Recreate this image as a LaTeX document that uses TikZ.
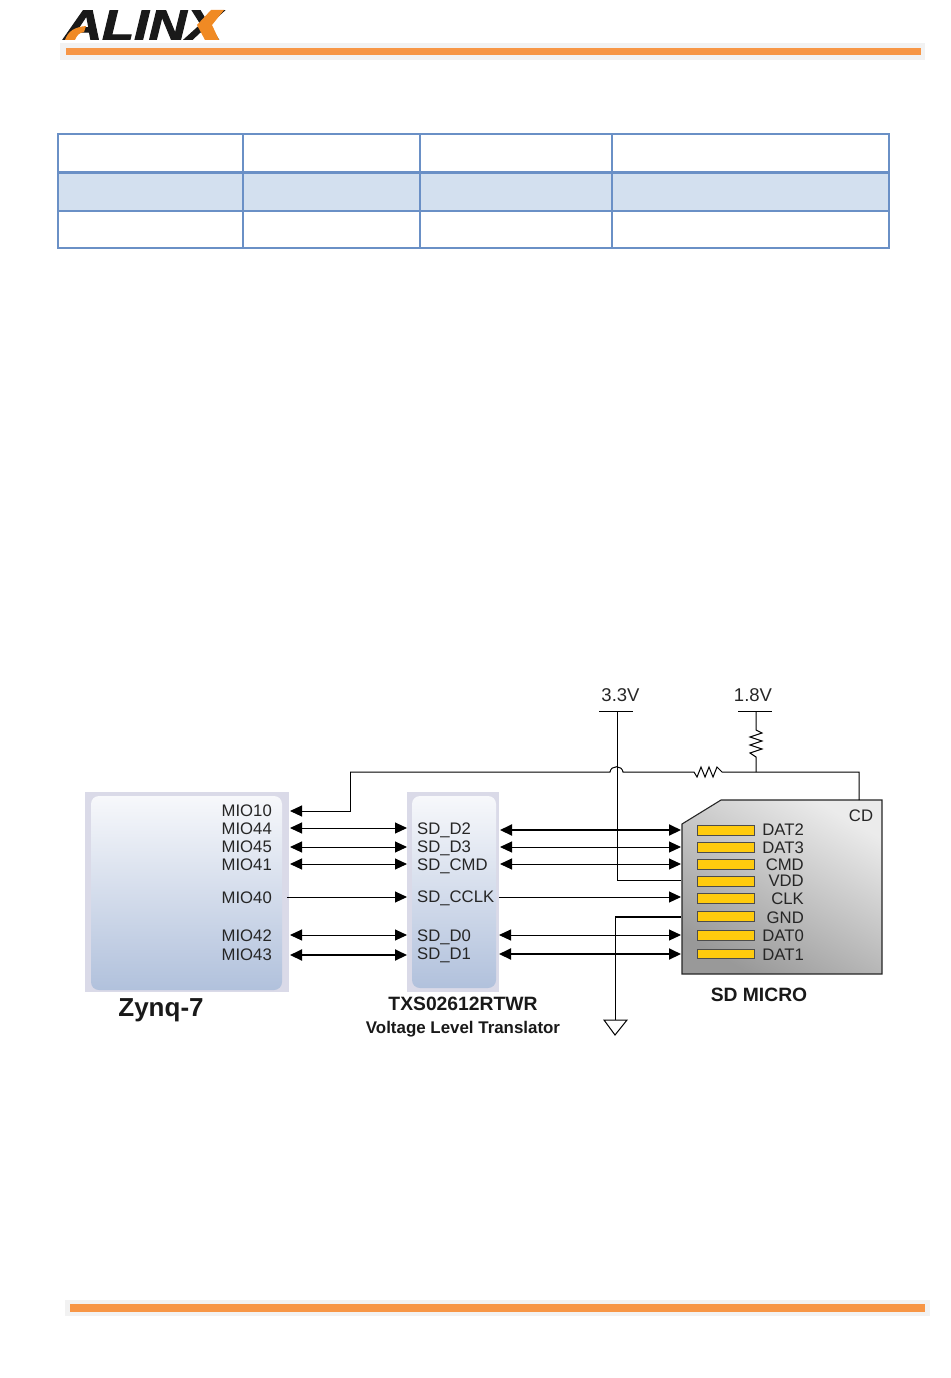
\documentclass[tikz,border=0pt]{standalone}
\usepackage{fontspec}
\setmainfont{Liberation Sans}
\newfontfamily\logofont[FakeBold=2.2, ItalicFont=*, BoldFont=*]{Liberation Sans Bold Italic}
\usetikzlibrary{arrows, arrows.meta}
\definecolor{barorange}{HTML}{F79646}
\definecolor{logoorange}{HTML}{F08A24}
\definecolor{bargrey}{HTML}{F2F2F2}
\definecolor{tableline}{HTML}{6A90C6}
\definecolor{tablerow}{HTML}{D3E0EF}
\definecolor{chipframe}{HTML}{DADAE8}
\definecolor{chiptop}{HTML}{F7F8FB}
\definecolor{chipbottom}{HTML}{B1C1DC}
\definecolor{pingold}{HTML}{FFCB0D}
\tikzset{
    chipouter/.style={fill=chipframe, draw=none},
    chipinner/.style={rounded corners=8pt, top color=chiptop, bottom color=chipbottom, draw=none},
    sigpin/.style={inner sep=0pt, font=\fontsize{16.7}{16.7}\selectfont, text=black!85},
    leftpin/.style={sigpin, anchor=east},
    rightpin/.style={sigpin, anchor=west},
    cardpin/.style={sigpin, anchor=east},
    railpin/.style={inner sep=0pt, font=\fontsize{18.5}{18.5}\selectfont, text=black!85},
    title/.style={inner sep=0pt, font=\bfseries\fontsize{#1}{#1}\selectfont, text=black!90},
    goldpad/.style={fill=pingold, draw=black!70, line width=0.8pt},
    sigboth/.style={{Triangle[length=12pt,width=11pt]}-{Triangle[length=12pt,width=11pt]}, line width=1pt},
    sigone/.style={-{Triangle[length=12pt,width=11pt]}, line width=1pt},
    sigthick/.style={line width=2pt},
    wire/.style={line width=1pt},
    tablerule/.style={tableline, line width=1.7pt}
}
\begin{document}
\begin{tikzpicture}[x=1pt, y=-1pt]
    \useasboundingbox (0,0) rectangle (950,1378);

    \fill[bargrey] (60,43) rectangle (925,60);
    \fill[barorange] (66,48) rectangle (921,55);
    \fill[bargrey] (65,1300) rectangle (930,1316);
    \fill[barorange] (70,1304) rectangle (925,1312);

    \node[anchor=west, inner sep=0pt, text=black!90, font=\logofont\fontsize{42}{42}\selectfont] (logo) at (64,25) {\scalebox{1.25}[1]{ALINX}};
    \fill[logoorange] (65,40) .. controls (68,31) and (75,27) .. (86,26) -- (84,32) .. controls (79,33) and (77,35) .. (75,40) -- cycle;
    \fill[logoorange] (224,10) -- (211,10) -- (197,25) -- (205,40) -- (219,40) -- (212,25) -- cycle;

    \fill[tablerow] (58,172) rectangle (889,210);
    \draw[tablerule] (58,134) rectangle (889,248);
    \draw[tablerule, line width=3pt] (58,172.5) -- (889,172.5);
    \draw[tablerule] (58,211) -- (889,211);
    \draw[tablerule] (243,134) -- (243,248);
    \draw[tablerule] (420,134) -- (420,248);
    \draw[tablerule] (612,134) -- (612,248);

    \fill[chipouter] (85,792) rectangle (289,992);
    \shade[chipinner] (91,796) rectangle (282,990);
    \fill[chipouter] (407,792) rectangle (499,992);
    \shade[chipinner] (412,796) rectangle (496,988);

    \shade[left color=black!40, middle color=black!36, right color=black!8, shading angle=150] (682,824) -- (721,800) -- (882,800) -- (882,974) -- (682,974) -- cycle;
    \draw[line width=1.1pt, black!85] (682,824) -- (721,800) -- (882,800) -- (882,974) -- (682,974) -- cycle;

    \node[leftpin] (mio10) at (272,811) {MIO10};
    \node[leftpin] (mio44) at (272,829) {MIO44};
    \node[leftpin] (mio45) at (272,847) {MIO45};
    \node[leftpin] (mio41) at (272,865) {MIO41};
    \node[leftpin] (mio40) at (272,898) {MIO40};
    \node[leftpin] (mio42) at (272,936) {MIO42};
    \node[leftpin] (mio43) at (272,955) {MIO43};

    \node[rightpin] (sdd2) at (417,830) {SD\_D2};
    \node[rightpin] (sdd3) at (417,848) {SD\_D3};
    \node[rightpin] (sdcmd) at (417,866) {SD\_CMD};
    \node[rightpin] (sdcclk) at (417,898) {SD\_CCLK};
    \node[rightpin] (sdd0) at (417,937) {SD\_D0};
    \node[rightpin] (sdd1) at (417,955) {SD\_D1};

    \draw[goldpad] (697.5,825.5) rectangle (754.5,835);
    \draw[goldpad] (697.5,842.5) rectangle (754.5,852);
    \draw[goldpad] (697.5,859.5) rectangle (754.5,869);
    \draw[goldpad] (697.5,876.5) rectangle (754.5,886);
    \draw[goldpad] (697.5,893.5) rectangle (754.5,903);
    \draw[goldpad] (697.5,911.5) rectangle (754.5,921);
    \draw[goldpad] (697.5,930) rectangle (754.5,940);
    \draw[goldpad] (697.5,949) rectangle (754.5,958.5);

    \node[cardpin] (dat2) at (804,830) {DAT2};
    \node[cardpin] (dat3) at (804,848) {DAT3};
    \node[cardpin] (cmd) at (804,865) {CMD};
    \node[cardpin] (vdd) at (804,881) {VDD};
    \node[cardpin] (clk) at (804,899) {CLK};
    \node[cardpin] (gnd) at (804,918) {GND};
    \node[cardpin] (dat0) at (804,936) {DAT0};
    \node[cardpin] (dat1) at (804,955) {DAT1};
    \node[sigpin] (cd) at (861,816) {CD};

    \node[title=26] (zynq) at (161,1010) {Zynq-7};
    \node[title=19.3] (txs) at (463,1004) {TXS02612RTWR};
    \node[title=16.9] (vlt) at (463,1029) {Voltage Level Translator};
    \node[title=19.3] (sdmicro) at (759,995) {SD MICRO};
    \node[railpin] (v33) at (620.5,695) {3.3V};
    \node[railpin] (v18) at (753,695) {1.8V};

    \coordinate (zl10) at (290,811);
    \coordinate (zl44) at (290,828);
    \coordinate (zl45) at (290,847);
    \coordinate (zl41) at (290,864);
    \coordinate (zl40) at (287,897);
    \coordinate (zl42) at (290,935);
    \coordinate (zl43) at (290,955);
    \coordinate (tl44) at (407,828);
    \coordinate (tl45) at (407,847);
    \coordinate (tl41) at (407,864);
    \coordinate (tl40) at (407,897);
    \coordinate (tl42) at (407,935);
    \coordinate (tl43) at (407,955);
    \coordinate (tr44) at (500,830);
    \coordinate (tr45) at (500,847);
    \coordinate (tr41) at (500,864);
    \coordinate (tr40) at (499,897);
    \coordinate (tr42) at (499,935);
    \coordinate (tr43) at (499,954);
    \coordinate (cl44) at (681,830);
    \coordinate (cl45) at (681,847);
    \coordinate (cl41) at (681,864);
    \coordinate (cl40) at (681,897);
    \coordinate (cl42) at (681,935);
    \coordinate (cl43) at (681,954);
    \coordinate (cvdd) at (681,880);
    \coordinate (cgnd) at (681,917);
    \coordinate (ccd) at (859,800);
    \coordinate (rail33) at (617,711);
    \coordinate (rail18) at (756,711);
    \coordinate (gndtop) at (615,1020);

    \draw[sigone] (350,772) |- (zl10);
    \draw[sigboth] (zl44) -- (tl44);
    \draw[sigboth] (zl45) -- (tl45);
    \draw[sigboth] (zl41) -- (tl41);
    \draw[sigone] (zl40) -- (tl40);
    \draw[sigboth] (zl42) -- (tl42);
    \draw[sigboth, sigthick] (zl43) -- (tl43);
    \draw[sigboth, sigthick] (tr44) -- (cl44);
    \draw[sigboth] (tr45) -- (cl45);
    \draw[sigboth] (tr41) -- (cl41);
    \draw[sigone] (tr40) -- (cl40);
    \draw[sigboth] (tr42) -- (cl42);
    \draw[sigboth, sigthick] (tr43) -- (cl43);

    \draw[wire] (599,711) -- (633,711);
    \draw[wire] (738,711) -- (772,711);
    \draw[wire] (rail33) |- (cvdd);
    \draw[wire] (rail18) -- (756,730) -- (762,733) -- (750,737) -- (762,741) -- (750,745) -- (762,749) -- (750,753) -- (756,757) -- (756,772);
    \draw[wire] (350,772) -- (610,772) .. controls (611,765) and (622,765) .. (623,772) -- (694,772) -- (697,777) -- (701,767) -- (705,777) -- (709,767) -- (713,777) -- (717,767) -- (722,772) -- (859,772) -- (ccd);
    \draw[sigthick] (cgnd) -- (615,917);
    \draw[wire] (615,917) -- (gndtop);
    \draw[wire, fill=white] (gndtop) -- (604,1020) -- (615,1035) -- (627,1020) -- cycle;
\end{tikzpicture}
\end{document}
